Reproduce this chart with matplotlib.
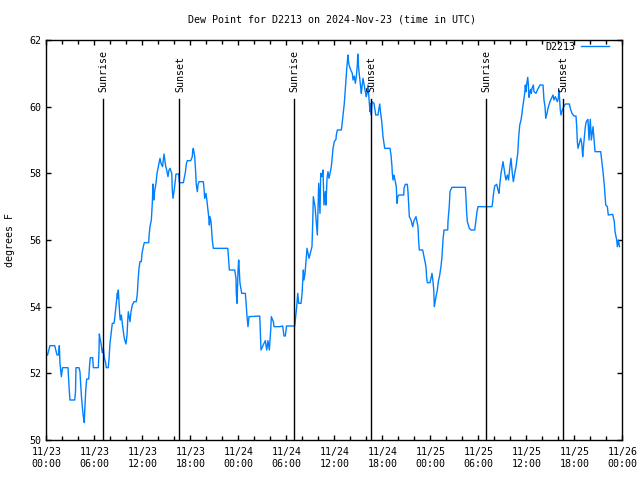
import matplotlib
matplotlib.use('Agg')
import matplotlib.pyplot as plt
from matplotlib.ticker import MultipleLocator

# hours since 2024-11-23 00:00 UTC
hours = [
    0.15, 0.46, 1.05, 1.34, 1.53, 1.63, 1.71, 1.84, 1.88, 2.03, 2.71, 2.88, 2.96, 3.55, 3.65, 3.71,
    4.09, 4.21, 4.38, 4.5, 4.63, 4.75, 4.8, 4.93, 5.05, 5.3, 5.43, 5.5, 5.8, 5.84, 5.88, 6.5,
    6.59, 6.63, 6.71, 6.84, 7.0, 7.13, 7.25, 7.43, 7.5, 7.75, 7.84, 7.96, 8.13, 8.25, 8.46, 8.55,
    8.71, 8.88, 8.94, 9.0, 9.18, 9.25, 9.38, 9.55, 9.75, 9.96, 10.09, 10.18, 10.25, 10.46, 10.59, 10.75,
    10.96, 11.25, 11.38, 11.46, 11.59, 11.71, 11.88, 11.96, 12.13, 12.25, 12.8, 12.84, 12.96, 13.13, 13.25, 13.34,
    13.43, 13.5, 13.71, 13.84, 14.0, 14.13, 14.21, 14.34, 14.53, 14.71, 14.93, 15.05, 15.21, 15.34, 15.46, 15.68,
    15.75, 15.84, 15.96, 16.09, 16.21, 16.55, 16.63, 17.13, 17.38, 17.5, 17.63, 18.05, 18.25, 18.3, 18.38, 18.55,
    18.68, 18.75, 18.88, 18.96, 19.09, 19.63, 19.71, 19.8, 19.96, 20.09, 20.3, 20.38, 20.46, 20.59, 20.75, 20.88,
    22.68, 22.75, 22.88, 23.55, 23.71, 23.75, 23.84, 23.96, 24.05, 24.21, 24.43, 24.88, 24.96, 25.09, 25.21, 25.34,
    26.68, 26.75, 26.8, 26.84, 27.21, 27.38, 27.55, 27.71, 27.88, 28.05, 28.13, 28.38, 28.46, 29.21, 29.55, 29.71,
    29.88, 30.03, 31.05, 31.3, 31.43, 31.55, 31.84, 31.96, 32.13, 32.21, 32.34, 32.5, 32.59, 32.84, 33.21, 33.3,
    33.38, 33.59, 33.88, 34.05, 34.21, 34.3, 34.46, 34.59, 34.71, 34.88, 34.96, 35.09, 35.21, 35.34, 35.63, 35.75,
    35.84, 36.0, 36.21, 36.25, 36.38, 36.88, 36.96, 37.09, 37.25, 37.38, 37.5, 37.59, 37.71, 37.75, 37.84, 38.09,
    38.25, 38.34, 38.5, 38.63, 38.75, 38.88, 38.93, 39.0, 39.09, 39.25, 39.38, 39.46, 39.59, 39.84, 40.0, 40.09,
    40.21, 40.3, 40.46, 40.55, 40.63, 40.71, 40.96, 41.18, 41.46, 41.55, 41.68, 41.75, 41.93, 42.0, 42.09, 42.3,
    42.96, 43.09, 43.21, 43.25, 43.34, 43.46, 43.75, 43.84, 43.93, 44.09, 44.68, 44.71, 44.88, 45.13, 45.21, 45.38,
    45.59, 45.8, 45.96, 46.21, 46.46, 46.55, 46.63, 47.05, 47.13, 47.3, 47.46, 47.55, 47.63, 47.96, 48.09, 48.21,
    48.34, 48.43, 48.46, 48.5, 48.71, 48.88, 49.0, 49.18, 49.34, 49.46, 49.59, 49.71, 50.18, 50.21, 50.38, 50.46,
    50.71, 52.38, 52.46, 52.55, 52.63, 52.75, 52.88, 53.09, 53.55, 53.71, 53.84, 53.96, 55.71, 55.8, 55.88, 56.05,
    56.3, 56.46, 56.59, 56.68, 56.84, 57.0, 57.09, 57.21, 57.34, 57.46, 57.63, 57.78, 57.96, 58.09, 58.25, 58.38,
    58.55, 58.71, 58.93, 59.05, 59.18, 59.34, 59.46, 59.59, 59.71, 59.8, 59.88, 59.96, 60.05, 60.18, 60.25, 60.34,
    60.46, 60.55, 60.63, 60.71, 60.88, 60.96, 61.21, 61.38, 61.59, 61.71, 62.09, 62.21, 62.34, 62.43, 62.59, 62.71,
    62.84, 62.96, 63.34, 63.46, 63.63, 63.88, 64.0, 64.09, 64.25, 64.34, 64.5, 64.68, 64.88, 65.38, 65.5, 65.71,
    65.96, 66.21, 66.3, 66.38, 66.46, 66.8, 66.93, 67.05, 67.13, 67.38, 67.5, 67.71, 67.84, 68.0, 68.13, 68.34,
    68.46, 68.59, 69.3, 69.59, 69.75, 69.93, 70.13, 70.25, 70.8, 71.0, 71.09, 71.3, 71.38, 71.53, 71.65,
]
dewpoint = [
    52.55, 52.83, 52.83, 52.55, 52.55, 52.83, 52.3, 52.0, 51.9, 52.17, 52.17, 51.45, 51.2, 51.2, 51.45, 52.17,
    52.17, 52.04, 51.35, 51.0, 50.7, 50.52, 50.85, 51.5, 51.83, 51.83, 52.3, 52.47, 52.47, 52.33, 52.17, 52.17,
    52.68, 53.18, 53.05, 52.9, 52.62, 52.75, 52.47, 52.3, 52.17, 52.17, 52.43, 52.9, 53.25, 53.5, 53.5, 53.65,
    54.0, 54.4, 54.25, 54.5, 53.75, 53.6, 53.75, 53.4, 53.05, 52.88, 53.15, 53.6, 53.85, 53.55, 53.85, 54.05,
    54.15, 54.15, 54.4, 54.75, 55.15, 55.35, 55.35, 55.6, 55.8, 55.92, 55.92, 56.12, 56.4, 56.6, 57.1, 57.68,
    57.2, 57.4, 57.7, 58.0, 58.2, 58.35, 58.45, 58.3, 58.2, 58.58, 58.2, 58.1, 57.9, 58.1, 58.15, 58.0,
    57.5, 57.25, 57.45, 57.7, 57.98, 57.98, 57.72, 57.72, 58.02, 58.28, 58.38, 58.38, 58.5, 58.68, 58.75, 58.5,
    58.0, 57.65, 57.45, 57.65, 57.75, 57.75, 57.55, 57.25, 57.4, 57.15, 56.7, 56.45, 56.7, 56.55, 56.0, 55.75,
    55.75, 55.55, 55.1, 55.1, 54.85, 54.4, 54.1, 55.05, 55.4, 54.7, 54.4, 54.4, 54.15, 53.7, 53.4, 53.7,
    53.72, 53.3, 53.0, 52.7, 52.9, 52.98, 52.7, 52.98, 52.7, 53.3, 53.7, 53.55, 53.4, 53.4, 53.42, 53.12,
    53.12, 53.42, 53.42, 54.0, 54.4, 54.1, 54.1, 54.35, 55.1, 54.8, 55.0, 55.5, 55.75, 55.45, 55.8, 56.5,
    57.3, 57.0, 56.15, 57.7, 56.8, 58.0, 57.9, 58.1, 57.05, 57.45, 57.05, 57.85, 58.05, 57.85, 58.2, 58.5,
    58.75, 58.95, 59.02, 59.15, 59.3, 59.3, 59.45, 59.75, 60.1, 60.55, 60.95, 61.25, 61.55, 61.4, 61.25, 61.08,
    61.0, 60.8, 60.92, 60.7, 60.9, 61.25, 61.58, 61.28, 61.05, 60.7, 60.4, 60.6, 60.85, 60.5, 60.3, 60.4,
    60.65, 60.35, 59.85, 60.1, 59.75, 60.15, 60.1, 59.75, 59.75, 59.9, 60.08, 59.9, 59.55, 59.35, 59.1, 58.75,
    58.75, 58.55, 58.2, 58.0, 57.8, 57.95, 57.6, 57.1, 57.3, 57.35, 57.35, 57.55, 57.67, 57.67, 57.45, 56.7,
    56.6, 56.4, 56.58, 56.7, 56.4, 55.95, 55.7, 55.7, 55.6, 55.4, 55.2, 54.85, 54.72, 54.72, 54.85, 55.0,
    54.75, 54.5, 54.25, 54.0, 54.3, 54.5, 54.75, 54.95, 55.22, 55.5, 56.0, 56.3, 56.3, 56.55, 57.05, 57.45,
    57.58, 57.58, 57.25, 56.8, 56.55, 56.45, 56.35, 56.3, 56.3, 56.6, 56.85, 57.0, 57.0, 57.15, 57.35, 57.62,
    57.67, 57.5, 57.4, 57.65, 58.0, 58.22, 58.35, 58.15, 57.95, 57.8, 57.95, 57.8, 58.22, 58.45, 58.0, 57.75,
    58.0, 58.2, 58.6, 59.1, 59.45, 59.6, 59.8, 60.05, 60.25, 60.4, 60.65, 60.45, 60.68, 60.88, 60.68, 60.28,
    60.45, 60.52, 60.4, 60.55, 60.65, 60.45, 60.4, 60.5, 60.6, 60.65, 60.65, 60.2, 60.0, 59.65, 59.8, 59.95,
    60.05, 60.15, 60.35, 60.2, 60.3, 60.15, 60.25, 60.5, 59.9, 59.75, 59.9, 60.0, 60.08, 60.08, 59.95, 59.8,
    59.72, 59.72, 59.4, 58.95, 58.75, 59.05, 58.9, 58.5, 58.75, 59.4, 59.55, 59.62, 59.0, 59.62, 59.0, 59.4,
    59.02, 58.65, 58.65, 58.05, 57.65, 57.05, 57.0, 56.75, 56.77, 56.55, 56.25, 56.0, 55.8, 56.0, 55.8,
]

sun_times = [7.04, 16.63, 30.91, 40.54, 54.91, 64.54]
sun_labels = ['Sunrise', 'Sunset', 'Sunrise', 'Sunset', 'Sunrise', 'Sunset']

tick_hours = [0, 6, 12, 18, 24, 30, 36, 42, 48, 54, 60, 66, 72]
tick_labels = ['11/23\n00:00', '11/23\n06:00', '11/23\n12:00', '11/23\n18:00',
               '11/24\n00:00', '11/24\n06:00', '11/24\n12:00', '11/24\n18:00',
               '11/25\n00:00', '11/25\n06:00', '11/25\n12:00', '11/25\n18:00',
               '11/26\n00:00']

plt.rcParams['font.family'] = 'DejaVu Sans Mono'
FS = 7.2

fig = plt.figure(figsize=(6.4, 4.8), dpi=100)
ax = fig.add_axes([46.3 / 640, 40 / 480, 576 / 640, 400 / 480])

ax.plot(hours, dewpoint, color='#0080ff', lw=1.0, label='D2213')

for t, lab in zip(sun_times, sun_labels):
    ax.axvline(t, ymin=0, ymax=0.8525, color='black', lw=1.0)
    ax.text(t + 0.15, 0.87, lab, transform=ax.get_xaxis_transform(),
            rotation=90, ha='center', va='bottom', fontsize=FS)

ax.set_xlim(0, 72)
ax.set_ylim(50, 62)
ax.set_xticks(tick_hours)
ax.set_xticklabels(tick_labels, fontsize=FS, linespacing=1.3)
ax.xaxis.set_minor_locator(MultipleLocator(2))
ax.set_yticks([50, 52, 54, 56, 58, 60, 62])
ax.tick_params(axis='y', labelsize=FS)
ax.tick_params(which='both', direction='in', top=True, right=True, width=1.0, color='black')
ax.tick_params(which='major', length=3.5)
ax.tick_params(which='minor', length=3.0)
ax.tick_params(axis='x', pad=5)
for s in ax.spines.values():
    s.set_linewidth(1.0)

ax.legend(loc='upper right', bbox_to_anchor=(0.9774, 0.995), frameon=False,
          markerfirst=False, handlelength=2.8, handletextpad=0.6,
          borderpad=0, borderaxespad=0, fontsize=FS)

fig.text(332 / 640, 1 - 19 / 480, 'Dew Point for D2213 on 2024-Nov-23 (time in UTC)',
         ha='center', va='center', fontsize=FS)
fig.text(10 / 640, 0.5, 'degrees F', rotation=90, ha='center', va='center', fontsize=FS)

fig.savefig('out.png', dpi=100)
